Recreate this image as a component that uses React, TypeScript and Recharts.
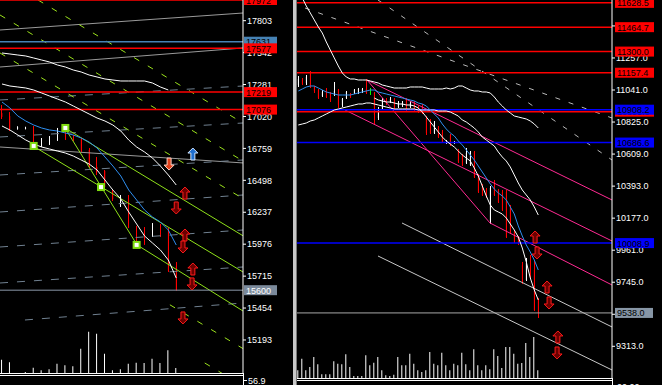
import React from "react";
import { ComposedChart, Bar, Line, XAxis, YAxis, ReferenceLine, Scatter } from "recharts";

// ---------- left window (index) ----------
const lOpen = [17048, 17024, 16924, 16922, 16934, 16779, 16803, 16828, 16918, 16852, 16836, 16746, 16607, 16574, 16403, 16350, 16354, 16125, 16051, 16043, 16133, 16100, 15798];
const lHigh = [17114, 17056, 16940, 16936, 16942, 16844, 16860, 16926, 16926, 16869, 16844, 16762, 16689, 16582, 16419, 16378, 16378, 16125, 16116, 16149, 16141, 16108, 15830];
const lLow = [16999, 16901, 16912, 16914, 16779, 16771, 16787, 16820, 16828, 16820, 16730, 16599, 16541, 16435, 16329, 16280, 16108, 15970, 15970, 16035, 16035, 15749, 15596];
const lClose = [17016, 16918, 16930, 16928, 16787, 16820, 16844, 16901, 16852, 16836, 16738, 16607, 16566, 16443, 16345, 16356, 16116, 16051, 16035, 16141, 16092, 15757, 15600];
const lVol = [1330, 1070, 0, 100, 530, 270, 370, 930, 770, 670, 2430, 4130, 3930, 1930, 270, 370, 930, 1030, 1000, 1430, 1000, 2270, 500];
const lMa = [17138.3, 17089.2, 17023.8, 16982.9, 16950.3, 16925.7, 16909.4, 16901.2, 16884.9, 16868.5, 16844.0, 16811.3, 16762.2, 16688.7, 16615.1, 16533.4, 16418.9, 16337.2, 16255.5, 16198.2, 16157.4, 16092.0, 15969.4];
const lBandUp = [17538.8, 17530.6, 17522.4, 17514.3, 17497.9, 17481.6, 17465.2, 17440.7, 17424.3, 17399.8, 17383.5, 17358.9, 17342.6, 17326.3, 17318.1, 17309.9, 17309.9, 17309.9, 17309.9, 17293.6, 17260.9, 17236.3, null];
const lBandMid = [17285.4, 17269.0, 17260.9, 17252.7, 17236.3, 17211.8, 17187.3, 17162.8, 17138.3, 17105.6, 17072.9, 17040.2, 17007.5, 16982.9, 16950.2, 16901.2, 16827.6, 16770.4, 16729.6, 16680.5, 16615.1, 16541.5, 16459.8];
const lBandLow = [16942.1, 16909.4, 16868.5, 16827.6, 16794.9, 16770.4, 16754.1, 16737.7, 16721.4, 16696.9, 16664.2, 16631.5, 16582.4, 16500.7, 16418.9, 16345.4, 16239.1, 16141.0, 16042.9, 15985.7, 15928.5, 15846.8, 15699.6];
const lTicks = [17803, 17542, 17281, 17020, 16759, 16498, 16237, 15976, 15715, 15454, 15193];

const lLevels = [
  { p: 17972, tag: "17972", color: "#ff0000" },
  { p: 17631, tag: "17631", color: "#4682b4" },
  { p: 17577, tag: "17577", color: "#ff0000" },
  { p: 17219, tag: "17219", color: "#ff0000" },
  { p: 17076, tag: "17076", color: "#ff0000" },
];
const lLast = { p: 15600, tag: "15600" };

const lGrayLines = [
  { x1: -0.25, p1: 17726.8, x2: 30.43, p2: 17865.7 },
  { x1: -0.25, p1: 17424.3, x2: 30.43, p2: 17579.6 },
  { x1: -0.25, p1: 16770.4, x2: 30.43, p2: 16640.0 },
];
const lFanLines = [
  { x1: -0.25, p1: 17154.6, x2: 30.43, p2: 17269.0 },
  { x1: -0.25, p1: 16852.2, x2: 30.43, p2: 16966.6 },
  { x1: -0.25, p1: 16541.6, x2: 30.43, p2: 16664.2 },
  { x1: -0.25, p1: 16239.1, x2: 30.43, p2: 16378.1 },
  { x1: -0.25, p1: 15953.0, x2: 30.43, p2: 16092.0 },
  { x1: -0.25, p1: 15658.8, x2: 30.43, p2: 15789.5 },
  { x1: 2.9, p1: 15356.3, x2: 30.43, p2: 15495.3 },
];
const lGreenDash = [
  { x1: 4.55, p1: 17972, x2: 30.43, p2: 16966.6 },
  { x1: -0.25, p1: 17849.4, x2: 30.43, p2: 16656.0 },
  { x1: -0.25, p1: 17538.8, x2: 30.43, p2: 16348.7 },
  { x1: 21.2, p1: 15480.5, x2: 30.43, p2: 15122.5 },
  { x1: 25.6, p1: 15004.8, x2: 30.43, p2: 14818.5 },
];
const lGreenSolid = [
  { x1: 7.95, p1: 16926, x2: 30.43, p2: 16044.6 },
  { x1: 3.91, p1: 16779, x2: 30.43, p2: 15748.7 },
  { x1: 17.05, p1: 15970, x2: 30.43, p2: 15429.9 },
  { x1: 7.95, p1: 16926, x2: 17.05, p2: 15970 },
];
const lFractals = [
  { i: 4, p: 16779 },
  { i: 8, p: 16926 },
  { i: 12.5, p: 16443 },
  { i: 17, p: 15970 },
];
const lArrowsUp = [
  { i: 23.1, p: 16394 },
  { i: 23.1, p: 16051 },
  { i: 24.1, p: 15773 },
];
const lArrowsDown = [
  { i: 22.0, p: 16272 },
  { i: 22.85, p: 15953 },
  { i: 24.0, p: 15651 },
  { i: 22.85, p: 15373 },
];
const lSignalUp = [{ i: 24.1, p: 16713 }];
const lSignalDown = [{ i: 21.1, p: 16631 }];

// ---------- right window ----------
const rOpen = [11074.8, 11108.5, 11088.2, 11155.7, 11061.3, 11041.0, 11000.6, 11041.0, 11020.8, 11007.3, 11041.0, 10939.9, 10987.1, 11014.1, 11020.8, 11020.8, 11027.6, 11047.8, 11027.6, 11020.8, 10852.3, 10913.0, 10973.6, 10960.1, 10980.4, 10926.4, 10939.9, 10980.4, 10926.4, 10960.1, 10926.4, 10926.4, 10852.3, 10838.8, 10751.2, 10784.9, 10757.9, 10683.7, 10737.7, 10683.7, 10636.5, 10602.8, 10548.9, 10535.4, 10623.1, 10468.0, 10400.6, 10366.9, 10157.9, 10393.8, 10366.9, 10353.4, 10353.4, 10252.3, 10083.7, 10050.0, 9861.3, 9760.1, 9847.8, 9827.5, 9625.3];
const rHigh = [11135.4, 11121.9, 11142.2, 11169.1, 11068.0, 11047.8, 11041.0, 11054.5, 11027.6, 11095.0, 11047.8, 10987.1, 11034.3, 11020.8, 11047.8, 11054.5, 11054.5, 11115.2, 11054.5, 11027.6, 10926.4, 10987.1, 10987.1, 10993.9, 10987.1, 10966.9, 10966.9, 10987.1, 10966.9, 10966.9, 10933.2, 10946.7, 10865.8, 10845.5, 10832.1, 10798.3, 10771.4, 10704.0, 10744.4, 10697.2, 10643.3, 10609.6, 10650.0, 10629.8, 10629.8, 10474.7, 10407.3, 10380.4, 10393.8, 10434.3, 10373.6, 10366.9, 10366.9, 10265.8, 10097.2, 10056.8, 9881.5, 9908.4, 9928.7, 9895.0, 9638.8];
const rLow = [11061.3, 11074.8, 11074.8, 11054.5, 11020.8, 10980.4, 10993.9, 10987.1, 10960.1, 11000.6, 10919.7, 10926.4, 10980.4, 10987.1, 11014.1, 11014.1, 11020.8, 11014.1, 11007.3, 10811.8, 10838.8, 10906.2, 10939.9, 10953.4, 10906.2, 10919.7, 10926.4, 10899.5, 10919.7, 10899.5, 10886.0, 10879.3, 10737.7, 10744.4, 10744.4, 10717.4, 10683.7, 10677.0, 10663.5, 10677.0, 10548.9, 10528.7, 10542.2, 10528.7, 10447.8, 10346.7, 10326.4, 10312.9, 10137.7, 10326.4, 10279.2, 10225.3, 10043.3, 10070.2, 10009.6, 9996.1, 9733.2, 9753.4, 9766.9, 9551.1, 9503.9];
const rClose = [11115.2, 11081.5, 11128.7, 11061.3, 11034.3, 10987.1, 11027.6, 10993.9, 10973.6, 11034.3, 10939.9, 10980.4, 11027.6, 10993.9, 11041.0, 11047.8, 11047.8, 11020.8, 11027.6, 10872.5, 10913.0, 10973.6, 10953.4, 10980.4, 10919.7, 10953.4, 10953.4, 10906.2, 10953.4, 10906.2, 10892.7, 10886.0, 10751.2, 10751.2, 10818.6, 10724.2, 10690.5, 10690.5, 10670.3, 10690.5, 10555.6, 10535.4, 10616.3, 10623.1, 10454.5, 10353.4, 10333.2, 10319.7, 10380.4, 10333.2, 10286.0, 10232.0, 10050.0, 10083.7, 10016.3, 10009.6, 9746.6, 9874.7, 9780.4, 9557.9, 9538.0];
const rVol = [770, 1930, 770, 1100, 2100, 1370, 370, 370, 370, 1670, 1430, 1370, 2370, 1100, 200, 200, 200, 2270, 1270, 1530, 2100, 770, 270, 200, 330, 2100, 1270, 1270, 2430, 1430, 770, 600, 770, 2600, 1430, 1270, 2530, 1270, 770, 1430, 1270, 2530, 1370, 770, 2870, 1270, 770, 1270, 870, 2870, 2200, 1000, 3100, 3100, 2430, 1430, 1500, 3500, 2100, 4100, 770];
const rMa = [11034.3, 11047.8, 11061.3, 11068.0, 11068.0, 11054.5, 11041.0, 11027.6, 11020.8, 11014.1, 11007.3, 11007.3, 11007.3, 11007.3, 11014.1, 11020.8, 11027.6, 11034.3, 11041.0, 11041.0, 11027.6, 11020.8, 11014.1, 11007.3, 11000.6, 10993.9, 10987.1, 10980.4, 10973.6, 10966.9, 10953.4, 10946.7, 10933.2, 10906.2, 10879.3, 10852.3, 10811.8, 10778.1, 10751.2, 10731.0, 10697.2, 10670.3, 10636.5, 10602.8, 10569.1, 10528.7, 10488.2, 10447.8, 10407.3, 10373.6, 10346.7, 10326.4, 10299.5, 10252.3, 10205.1, 10124.2, 10056.8, 9996.1, 9948.9, 9894.9, 9827.5];
const rBandUp = [11701.7, 11661.3, 11607.4, 11560.2, 11513.0, 11465.8, 11425.3, 11364.6, 11310.7, 11256.8, 11202.9, 11155.7, 11128.7, 11115.2, 11115.2, 11108.5, 11108.5, 11108.5, 11101.7, 11095.0, 11088.2, 11074.8, 11068.0, 11061.3, 11054.5, 11054.5, 11054.5, 11054.5, 11061.3, 11061.3, 11061.3, 11061.3, 11054.5, 11047.8, 11047.8, 11047.8, 11047.8, 11054.5, 11047.8, 11054.5, 11068.0, 11068.0, 11054.5, 11041.0, 11034.3, 11034.3, 11027.6, 11027.6, 11020.8, 10993.9, 10960.1, 10933.2, 10906.2, 10886.0, 10865.8, 10859.0, 10852.3, 10845.5, 10832.1, 10811.8, 10784.9];
const rBandLow = [10805.1, 10811.8, 10818.6, 10832.1, 10838.8, 10852.3, 10865.8, 10879.3, 10892.7, 10906.2, 10913.0, 10919.7, 10926.4, 10933.2, 10939.9, 10946.7, 10946.7, 10953.4, 10953.4, 10946.7, 10939.9, 10933.2, 10926.4, 10919.7, 10913.0, 10913.0, 10913.0, 10913.0, 10913.0, 10913.0, 10906.2, 10906.2, 10906.2, 10906.2, 10906.2, 10899.5, 10899.5, 10899.5, 10892.7, 10879.3, 10865.8, 10838.8, 10825.3, 10805.1, 10784.9, 10757.9, 10724.2, 10704.0, 10683.7, 10663.5, 10623.1, 10589.3, 10562.4, 10522.0, 10468.0, 10414.1, 10366.9, 10333.2, 10299.5, 10252.3, 10198.3];
const rFast = [null, null, null, null, null, null, null, null, null, null, null, null, null, null, null, null, null, null, null, 10987.1, 10973.6, 10966.9, 10960.1, 10960.1, 10953.4, 10946.7, 10946.7, 10939.9, 10939.9, 10933.2, 10919.7, 10892.7, 10859.0, 10825.3, 10791.6, 10757.9, 10724.2, 10697.2, 10677.0, 10656.7, 10629.8, 10602.8, 10582.6, 10562.4, 10515.2, 10461.3, 10393.8, 10326.4, 10265.8, 10232.0, 10218.6, 10205.1, 10178.1, 10137.7, 10097.2, 10050.0, 9975.9, 9881.5, 9773.6, 9692.7, 9625.3];
const rTicks = [11473, 11257, 11041, 10825, 10609, 10393, 10177, 9961, 9745, 9529, 9313];

const rLevels = [
  { p: 11628.5, tag: "11628.5", color: "#ff0000" },
  { p: 11464.7, tag: "11464.7", color: "#ff0000" },
  { p: 11300.0, tag: "11300.0", color: "#ff0000" },
  { p: 11157.4, tag: "11157.4", color: "#ff0000" },
  { p: 10895.0, tag: "10895.0", color: "#ff0000" },
  { p: 10908.2, tag: "10908.2", color: "#0000ff" },
  { p: 10686.6, tag: "10686.6", color: "#0000ff" },
  { p: 10008.9, tag: "10008.9", color: "#0000ff" },
];
const rLast = { p: 9538.0, tag: "9538.0" };

const rPinkLines = [
  { x1: 17.18, p1: 11108.5, x2: 78.43, p2: 10299.5 },
  { x1: 17.18, p1: 11108.5, x2: 47.93, p2: 10144.4 },
  { x1: 11.68, p1: 10906.2, x2: 78.43, p2: 10023.0 },
  { x1: 47.93, p1: 10144.4, x2: 78.43, p2: 9726.4 },
];
const rGrayLines = [
  { x1: 25.93, p1: 10144.4, x2: 78.43, p2: 9443.3 },
  { x1: 19.93, p1: 9921.9, x2: 78.43, p2: 9153.4 },
];
const rDashLines = [
  { x1: 1.68, p1: 11593.9, x2: 78.43, p2: 10852.3 },
  { x1: 19.93, p1: 11647.8, x2: 78.43, p2: 10569.1 },
];
const rArrowsUp = [
  { i: 59.2, p: 10050 },
  { i: 62.2, p: 9713 },
  { i: 64.9, p: 9376 },
];
const rArrowsDown = [
  { i: 59.7, p: 9942 },
  { i: 62.7, p: 9605 },
  { i: 64.7, p: 9268 },
];

const leftData = lOpen.map((o, i) => ({
  i, o, h: lHigh[i], l: lLow[i], c: lClose[i], v: lVol[i],
  ma: lMa[i], up: lBandUp[i], mid: lBandMid[i], low: lBandLow[i],
}));
const rightData = rOpen.map((o, i) => ({
  i, o, h: rHigh[i], l: rLow[i], c: rClose[i], v: rVol[i],
  ma: rMa[i], up: rBandUp[i], low: rBandLow[i], fast: rFast[i],
}));

const FONT = "Liberation Sans, Arial, sans-serif";
const L_X = [-0.2525, 30.43];
const L_Y = [14923, 17972];
const R_X = [-0.325, 78.43];
const R_Y = [9099.3, 11647.8];

function Candle(props: any) {
  const { x, y, width, height, payload } = props;
  if (!payload || payload.o == null) return null;
  const { o, h, l, c } = payload;
  const top = Math.min(y, y + height);
  const bot = Math.max(y, y + height);
  const k = h > l ? (bot - top) / (h - l) : 0;
  const yo = top + (h - o) * k;
  const yc = top + (h - c) * k;
  const col = c > o ? "#ffffff" : c < o ? "#ff0000" : "#00ff00";
  const mid = Math.floor(x + width / 2) + 0.5;
  return (
    <g>
      <line x1={mid} x2={mid} y1={top} y2={bot} stroke={col} />
      <rect x={x} y={Math.min(yo, yc)} width={width} height={Math.max(1, Math.abs(yc - yo))} fill={col} />
    </g>
  );
}

function Arrow({ cx, cy, up, fill, stroke }: any) {
  const s = up ? 1 : -1;
  const pts = [[0, -6], [5, -1], [2, -1], [2, 6], [-2, 6], [-2, -1], [-5, -1]]
    .map(([dx, dy]) => `${cx + dx},${cy + dy * s}`)
    .join(" ");
  return <polygon points={pts} fill={fill} stroke={stroke} strokeWidth={1} />;
}

function Square({ cx, cy }: any) {
  return <rect x={cx - 3} y={cy - 3} width={6} height={6} fill="#ffffff" stroke="#7fdc10" strokeWidth={2} />;
}

const tag = (text: string, bg: string, fg: string, x: number, w: number) => (props: any) => {
  const y = props.viewBox.y;
  return (
    <g>
      <rect x={x} y={y - 5} width={w} height={10} fill={bg} />
      <text x={x + 2} y={y + 3.5} fontSize={9} fontFamily={FONT} fill={fg}>{text}</text>
    </g>
  );
};

const seg = (s: any) => [{ x: s.x1, y: s.p1 }, { x: s.x2, y: s.p2 }];
const noAxis = { tick: false, axisLine: false, tickLine: false };

export default function App() {
  return (
    <div style={{ position: "fixed", left: 0, top: 0, width: 662, height: 385, background: "#000", overflow: "hidden", fontFamily: FONT }}>
      {/* left window */}
      <div style={{ position: "absolute", left: 0, top: 0 }}>
        <ComposedChart width={293} height={373} data={leftData} margin={{ top: 0, right: 0, bottom: 0, left: 0 }}>
          <XAxis dataKey="i" type="number" domain={L_X} allowDataOverflow hide />
          <XAxis xAxisId="vx" dataKey="i" type="number" domain={L_X} allowDataOverflow hide />
          <YAxis yAxisId="vy" domain={[0, 37300]} hide />
          <YAxis orientation="right" width={50} domain={L_Y} allowDataOverflow ticks={lTicks} interval={0}
            tick={{ fill: "#ffffff", fontSize: 9, fontFamily: FONT }} tickSize={3} tickMargin={1}
            axisLine={{ stroke: "#ffffff" }} tickLine={{ stroke: "#ffffff" }} />
          {lGrayLines.map((s, k) => <ReferenceLine key={"g" + k} segment={seg(s)} stroke="#9a9a9a" ifOverflow="hidden" />)}
          {lFanLines.map((s, k) => <ReferenceLine key={"f" + k} segment={seg(s)} stroke="#708090" strokeDasharray="8 9" ifOverflow="hidden" />)}
          {lGreenDash.map((s, k) => <ReferenceLine key={"gd" + k} segment={seg(s)} stroke="#9be21c" strokeDasharray="6 10" ifOverflow="hidden" />)}
          {lGreenSolid.map((s, k) => <ReferenceLine key={"gs" + k} segment={seg(s)} stroke="#8fe01a" ifOverflow="hidden" />)}
          {lLevels.map((r) => <ReferenceLine key={r.tag} y={r.p} stroke={r.color} strokeWidth={1.5} />)}
          <ReferenceLine y={lLast.p} stroke="#8a98a8" />
          <Bar xAxisId="vx" yAxisId="vy" dataKey="v" barSize={1} fill="#ffffff" isAnimationActive={false} />
          <Bar dataKey={(d: any) => [d.l, d.h]} barSize={6} shape={(p: any) => <Candle {...p} />} activeBar={false} isAnimationActive={false} />
          <Line dataKey="up" stroke="#ffffff" dot={false} activeDot={false} strokeWidth={1} isAnimationActive={false} />
          <Line dataKey="mid" stroke="#ffffff" dot={false} activeDot={false} strokeWidth={1} isAnimationActive={false} />
          <Line dataKey="low" stroke="#ffffff" dot={false} activeDot={false} strokeWidth={1} isAnimationActive={false} />
          <Line dataKey="ma" stroke="#2f8ff0" dot={false} activeDot={false} strokeWidth={1} isAnimationActive={false} />
          <Scatter data={lFractals} dataKey="p" shape={(p: any) => <Square {...p} />} isAnimationActive={false} />
          <Scatter data={lArrowsUp} dataKey="p" shape={(p: any) => <Arrow {...p} up fill="#6a0000" stroke="#ff1a1a" />} isAnimationActive={false} />
          <Scatter data={lArrowsDown} dataKey="p" shape={(p: any) => <Arrow {...p} up={false} fill="#6a0000" stroke="#ff1a1a" />} isAnimationActive={false} />
          <Scatter data={lSignalUp} dataKey="p" shape={(p: any) => <Arrow {...p} up fill="#1f6fd0" stroke="#cfe4ff" />} isAnimationActive={false} />
          <Scatter data={lSignalDown} dataKey="p" shape={(p: any) => <Arrow {...p} up={false} fill="#e0401a" stroke="#ffd0c0" />} isAnimationActive={false} />
        </ComposedChart>
      </div>
      {/* left price tags, drawn over the axis labels */}
      <div style={{ position: "absolute", left: 0, top: 0, pointerEvents: "none" }}>
        <ComposedChart width={293} height={373} data={leftData} margin={{ top: 0, right: 0, bottom: 0, left: 0 }}>
          <XAxis dataKey="i" type="number" domain={L_X} allowDataOverflow hide />
          <YAxis orientation="right" width={50} domain={L_Y} allowDataOverflow {...noAxis} />
          {lLevels.map((r) => (
            <ReferenceLine key={r.tag} y={r.p} stroke="none" ifOverflow="visible"
              label={tag(r.tag, r.color, "#000000", 244, 33)} />
          ))}
          <ReferenceLine y={lLast.p} stroke="none" label={tag(lLast.tag, "#7b8a9b", "#ffffff", 244, 33)} />
        </ComposedChart>
      </div>
      <svg style={{ position: "absolute", left: 0, top: 373 }} width={293} height={12}>
        <line x1={0} x2={243} y1={0.5} y2={0.5} stroke="#ffffff" />
        <line x1={0} x2={243} y1={2.5} y2={2.5} stroke="#ffffff" />
        <line x1={243.5} x2={243.5} y1={0} y2={12} stroke="#ffffff" />
        <line x1={243} x2={247} y1={7.5} y2={7.5} stroke="#ffffff" />
        <text x={248} y={11} fontSize={9} fontFamily={FONT} fill="#ffffff">56.9</text>
      </svg>

      {/* separator */}
      <div style={{ position: "absolute", left: 293, top: 0, width: 3, height: 385, background: "#c8c8c8" }} />
      <div style={{ position: "absolute", left: 296, top: 0, width: 1, height: 385, background: "#777777" }} />

      {/* right window */}
      <div style={{ position: "absolute", left: 297, top: 0 }}>
        <ComposedChart width={365} height={378} data={rightData} margin={{ top: 0, right: 0, bottom: 0, left: 0 }}>
          <XAxis dataKey="i" type="number" domain={R_X} allowDataOverflow hide />
          <XAxis xAxisId="vx" dataKey="i" type="number" domain={R_X} allowDataOverflow hide />
          <YAxis yAxisId="vy" domain={[0, 37800]} hide />
          <YAxis orientation="right" width={50} domain={R_Y} allowDataOverflow ticks={rTicks} interval={0}
            tickFormatter={(v: number) => v.toFixed(1)}
            tick={{ fill: "#ffffff", fontSize: 9, fontFamily: FONT }} tickSize={3} tickMargin={1}
            axisLine={{ stroke: "#ffffff" }} tickLine={{ stroke: "#ffffff" }} />
          {rDashLines.map((s, k) => <ReferenceLine key={"d" + k} segment={seg(s)} stroke="#b8b8b8" strokeDasharray="5 9" ifOverflow="hidden" />)}
          {rGrayLines.map((s, k) => <ReferenceLine key={"g" + k} segment={seg(s)} stroke="#c8c8c8" ifOverflow="hidden" />)}
          {rPinkLines.map((s, k) => <ReferenceLine key={"p" + k} segment={seg(s)} stroke="#ff2a92" ifOverflow="hidden" />)}
          {rLevels.map((r) => <ReferenceLine key={r.tag} y={r.p} stroke={r.color} strokeWidth={1.5} />)}
          <ReferenceLine y={rLast.p} stroke="#a8a8a8" />
          <Bar xAxisId="vx" yAxisId="vy" dataKey="v" barSize={1} fill="#ffffff" isAnimationActive={false} />
          <Bar dataKey={(d: any) => [d.l, d.h]} barSize={3} shape={(p: any) => <Candle {...p} />} activeBar={false} isAnimationActive={false} />
          <Line dataKey="up" stroke="#ffffff" dot={false} activeDot={false} strokeWidth={1} isAnimationActive={false} />
          <Line dataKey="low" stroke="#ffffff" dot={false} activeDot={false} strokeWidth={1} isAnimationActive={false} />
          <Line dataKey="fast" stroke="#ffffff" dot={false} activeDot={false} strokeWidth={1} isAnimationActive={false} />
          <Line dataKey="ma" stroke="#2f8ff0" dot={false} activeDot={false} strokeWidth={1} isAnimationActive={false} />
          <Scatter data={rArrowsUp} dataKey="p" shape={(p: any) => <Arrow {...p} up fill="#6a0000" stroke="#ff1a1a" />} isAnimationActive={false} />
          <Scatter data={rArrowsDown} dataKey="p" shape={(p: any) => <Arrow {...p} up={false} fill="#6a0000" stroke="#ff1a1a" />} isAnimationActive={false} />
        </ComposedChart>
      </div>
      {/* right price tags */}
      <div style={{ position: "absolute", left: 297, top: 0, pointerEvents: "none" }}>
        <ComposedChart width={365} height={378} data={rightData} margin={{ top: 0, right: 0, bottom: 0, left: 0 }}>
          <XAxis dataKey="i" type="number" domain={R_X} allowDataOverflow hide />
          <YAxis orientation="right" width={50} domain={R_Y} allowDataOverflow {...noAxis} />
          {rLevels.map((r) => (
            <ReferenceLine key={r.tag} y={r.p} stroke="none"
              label={tag(r.tag, r.color, "#000000", 318, 39)} />
          ))}
          <ReferenceLine y={rLast.p} stroke="none" label={tag(rLast.tag, "#8796a6", "#000000", 318, 38)} />
        </ComposedChart>
      </div>
      <svg style={{ position: "absolute", left: 297, top: 378 }} width={365} height={7}>
        <line x1={0} x2={315} y1={0.5} y2={0.5} stroke="#ffffff" />
        <line x1={0} x2={315} y1={2.5} y2={2.5} stroke="#ffffff" />
        <line x1={315.5} x2={315.5} y1={0} y2={7} stroke="#ffffff" />
        <text x={320} y={12} fontSize={9} fontFamily={FONT} fill="#ffffff">00.00</text>
      </svg>
    </div>
  );
}
